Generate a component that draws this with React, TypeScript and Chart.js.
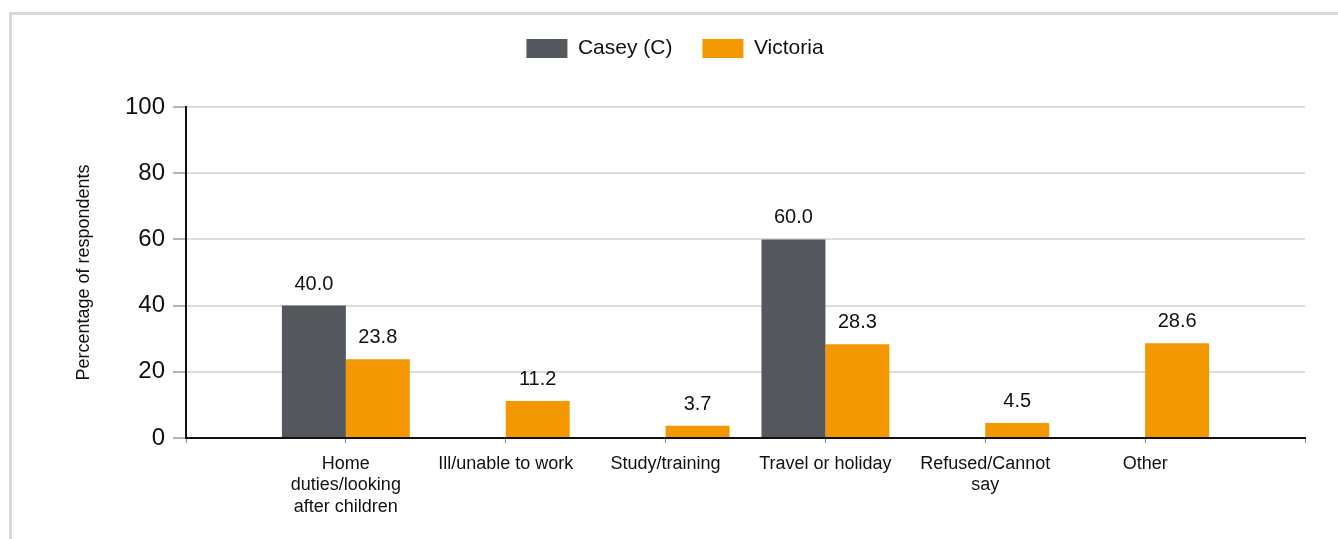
import { useEffect, useRef } from "react";
import { Chart, registerables } from "chart.js";

Chart.register(...registerables);

const categories: (string | string[])[] = [
  "",
  ["Home", "duties/looking", "after children"],
  "Ill/unable to work",
  "Study/training",
  "Travel or holiday",
  ["Refused/Cannot", "say"],
  "Other",
  "",
];
const caseyValues: (number | null)[] = [null, 40.0, null, null, 60.0, null, null, null];
const victoriaValues: (number | null)[] = [null, 23.8, 11.2, 3.7, 28.3, 4.5, 28.6, null];
const seriesNames = ["Casey (C)", "Victoria"];
const yAxisTitle = "Percentage of respondents";
const yMin = 0;
const yMax = 100;
const yStep = 20;

const FONT = "'Liberation Sans', Arial, Helvetica, sans-serif";
const CASEY_COLOR = "#54575b";
const VIC_COLOR = "#f39800";

const legendSpacer = {
  id: "legendSpacer",
  beforeInit(chart: any) {
    const legend = chart.legend;
    if (!legend) return;
    const origFit = legend.fit;
    legend.fit = function () {
      origFit.call(this);
      this.height += 38;
    };
  },
};

const valueLabels = {
  id: "valueLabels",
  afterDatasetsDraw(chart: any) {
    const ctx = chart.ctx;
    ctx.save();
    ctx.font = `20px ${FONT}`;
    ctx.fillStyle = "#111";
    ctx.textAlign = "center";
    ctx.textBaseline = "alphabetic";
    chart.data.datasets.forEach((ds: any, di: number) => {
      const meta = chart.getDatasetMeta(di);
      meta.data.forEach((el: any, i: number) => {
        const v = ds.data[i];
        if (v === null || v === undefined) return;
        ctx.fillText(Number(v).toFixed(1), el.x, el.y - 16);
      });
    });
    ctx.restore();
  },
};

export default function App() {
  const canvasRef = useRef<HTMLCanvasElement | null>(null);

  useEffect(() => {
    const canvas = canvasRef.current;
    if (!canvas) return;
    const chart = new Chart(canvas, {
      type: "bar",
      data: {
        labels: categories as any,
        datasets: [
          {
            label: seriesNames[0],
            data: caseyValues,
            backgroundColor: CASEY_COLOR,
            borderWidth: 0,
          },
          {
            label: seriesNames[1],
            data: victoriaValues,
            backgroundColor: VIC_COLOR,
            borderWidth: 0,
          },
        ],
      },
      options: {
        responsive: false,
        animation: false,
        devicePixelRatio: 1,
        layout: { padding: { left: 45, right: 33, top: 8, bottom: 0 } },
        datasets: {
          bar: { categoryPercentage: 0.8, barPercentage: 1.0 },
        },
        plugins: {
          legend: {
            display: true,
            position: "top",
            align: "center",
            labels: {
              boxWidth: 41,
              boxHeight: 19,
              padding: 30,
              color: "#111",
              font: { family: FONT, size: 21 },
            },
          },
          tooltip: { enabled: false },
          title: { display: false },
        },
        scales: {
          x: {
            type: "category",
            offset: false,
            grid: {
              display: true,
              offset: false,
              drawOnChartArea: false,
              drawTicks: true,
              tickLength: 5,
              tickColor: "#888",
              tickWidth: 1,
            },
            border: { display: true, color: "#111", width: 2 },
            ticks: {
              autoSkip: false,
              maxRotation: 0,
              minRotation: 0,
              padding: 10,
              color: "#111",
              font: { family: FONT, size: 18, lineHeight: 1.2 },
            },
            afterFit(scale: any) {
              scale.height = 101;
            },
          },
          y: {
            min: yMin,
            max: yMax,
            grid: {
              color: "#dddddd",
              lineWidth: 2,
              drawTicks: true,
              tickLength: 13,
              tickColor: "#666",
              tickWidth: 1,
            },
            border: { display: true, color: "#111", width: 2 },
            ticks: {
              stepSize: yStep,
              padding: 8,
              color: "#111",
              font: { family: FONT, size: 24 },
            },
            title: {
              display: true,
              text: yAxisTitle,
              color: "#111",
              font: { family: FONT, size: 18, lineHeight: 1.2 },
              padding: { top: 28, bottom: 0 },
            },
            afterFit(scale: any) {
              scale.width = 141;
            },
          },
        },
      } as any,
      plugins: [legendSpacer, valueLabels],
    });
    return () => chart.destroy();
  }, []);

  return (
    <div
      style={{
        position: "fixed",
        left: 0,
        top: 0,
        width: 1338,
        height: 539,
        overflow: "hidden",
        background: "#fff",
      }}
    >
      <div
        style={{
          position: "absolute",
          left: 9,
          top: 12,
          width: 1400,
          height: 600,
          border: "3px solid #d9d9d9",
        }}
      />
      <canvas
        ref={canvasRef}
        width={1338}
        height={539}
        style={{ position: "absolute", left: 0, top: 0, width: 1338, height: 539 }}
      />
    </div>
  );
}
